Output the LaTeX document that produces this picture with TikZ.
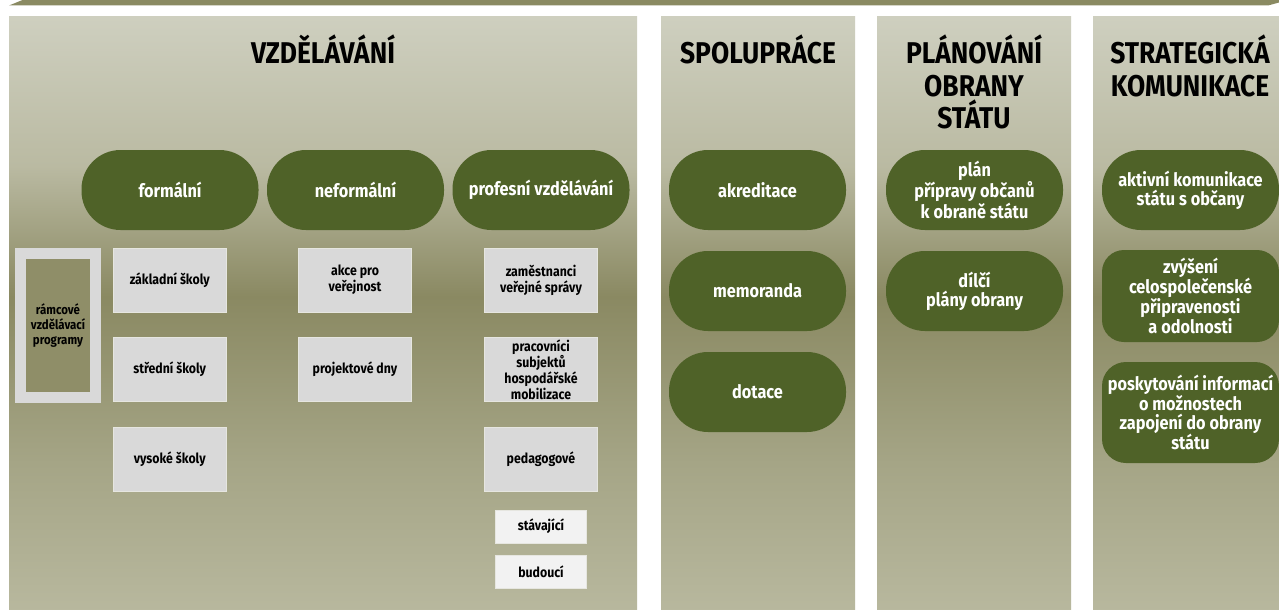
\documentclass[tikz,border=0pt]{standalone}
\usepackage{fontspec}
\newfontfamily\rc{Fira Sans}[FakeStretch=0.88]
\definecolor{pillgreen}{HTML}{4F6228}
\definecolor{boxgray}{HTML}{D9D9D9}
\definecolor{boxlight}{HTML}{F2F2F2}
\definecolor{boxedge}{HTML}{E6E6E0}
\definecolor{bgTop}{RGB}{206,207,191}
\definecolor{bgQ1}{RGB}{186,186,162}
\definecolor{bgMid}{RGB}{138,137,98}
\definecolor{bgQ3}{RGB}{165,165,134}
\definecolor{bgBot}{RGB}{184,184,158}
\definecolor{stripc}{HTML}{8A8A62}
\definecolor{innerc}{HTML}{8F8E68}
\pgfdeclareverticalshading{panelshade}{100bp}{color(0bp)=(bgBot); color(25bp)=(bgBot); color(37.5bp)=(bgQ3); color(51.5bp)=(bgMid); color(62.5bp)=(bgQ1); color(75bp)=(bgTop); color(100bp)=(bgTop)}
\tikzset{
  panel/.style={shading=panelshade},
  ttl/.style={font=\rc\bfseries\fontsize{30}{32.5}\selectfont, text=black, align=center, anchor=north, inner sep=0pt},
  pill/.style={fill=pillgreen, text=white, rounded corners=39pt, minimum width=177pt, minimum height=80pt, align=center, inner sep=0pt, font=\rc\bfseries\fontsize{18.5}{19}\selectfont},
  rbox/.style={fill=pillgreen, text=white, minimum width=177pt, align=center, inner sep=0pt, font=\rc\bfseries\fontsize{18.5}{19}\selectfont},
  gbox/.style={fill=boxgray, draw=boxedge, line width=0.6pt, minimum width=113pt, minimum height=64pt, align=center, inner sep=0pt, font=\rc\bfseries\fontsize{14}{16}\selectfont},
  lbox/.style={gbox, fill=boxlight, minimum width=91pt, minimum height=33pt}
}
\begin{document}
\begin{tikzpicture}[x=1pt,y=-1pt]
\useasboundingbox (0,0) rectangle (1279,610);
\clip (0,0) rectangle (1279,610);
\fill[white] (0,0) rectangle (1279,610);
% top strip
\fill[stripc] (9,5.5) -- (25,-1) -- (1279,-1) -- (1279,2.5) -- (1268,5.5) -- cycle;
% panels
\shade[panel] (9,17) rectangle (637,612);
\shade[panel] (661,17) rectangle (855,612);
\shade[panel] (877,17) rectangle (1071,612);
\shade[panel] (1093,17) rectangle (1290,612);
% titles
\node[ttl] (tV) at (323,35) {VZDĚLÁVÁNÍ};
\node[ttl] (tS) at (758,35) {SPOLUPRÁCE};
\node[ttl] (tP) at (974,35) {PLÁNOVÁNÍ\\OBRANY\\STÁTU};
\node[ttl] (tK) at (1190,35) {STRATEGICKÁ\\KOMUNIKACE};
% pills row 1
\node[pill] (formal) at (170,190) {formální};
\node[pill] (neformal) at (355.5,190) {neformální};
\node[pill] (profesni) at (541,190) {profesní vzdělávání};
\node[pill] (akred) at (757.5,190) {akreditace};
\node[pill] (plan) at (974.5,190) {plán\\přípravy občanů\\k obraně státu};
\node[pill] (aktiv) at (1190.5,190) {aktivní komunikace\\státu s občany};
% column pills
\node[pill] (memo) at (757.5,291) {memoranda};
\node[pill] (dotace) at (757.5,392) {dotace};
\node[pill] (dilci) at (974.5,291) {dílčí\\plány obrany};
\node[rbox, rounded corners=22pt, minimum height=92pt] (zvys) at (1190.5,296) {zvýšení\\celospolečenské\\připravenosti\\a odolnosti};
\node[rbox, rounded corners=24pt, minimum height=101pt] (posk) at (1190.5,412.5) {poskytování informací\\o možnostech\\zapojení do obrany\\státu};
% frame
\fill[boxgray] (15,248) rectangle (101,403);
\fill[innerc] (26,259) rectangle (90,392);
\node[align=center, inner sep=0pt, font=\rc\bfseries\fontsize{13}{15}\selectfont] (ramc) at (58,326) {rámcové\\vzdělávací\\programy};
% gray boxes
\node[gbox] (zakl) at (169.75,280) {základní školy};
\node[gbox] (stred) at (169.75,369.5) {střední školy};
\node[gbox] (vys) at (169.75,459) {vysoké školy};
\node[gbox] (akce) at (355,280) {akce pro\\veřejnost};
\node[gbox] (proj) at (355,369.5) {projektové dny};
\node[gbox] (zam) at (541,280) {zaměstnanci\\veřejné správy};
\node[gbox] (prac) at (541,369.5) {pracovníci\\subjektů\\hospodářské\\mobilizace};
\node[gbox] (ped) at (541,459) {pedagogové};
\node[lbox] (stav) at (541,526.5) {stávající};
\node[lbox] (bud) at (541,571.5) {budoucí};
\end{tikzpicture}
\end{document}
